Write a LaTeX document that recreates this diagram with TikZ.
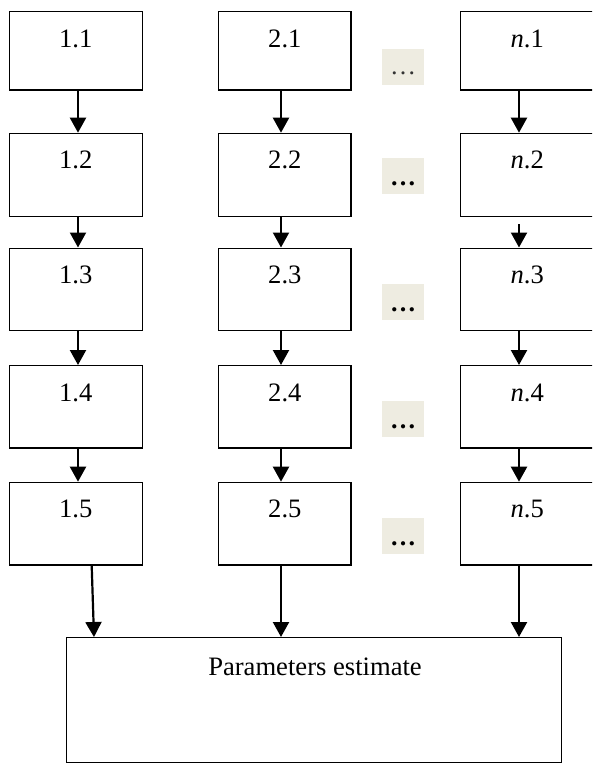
\documentclass[tikz,border=0pt]{standalone}
\usepackage{fontspec}
\setmainfont{Liberation Serif}
\usetikzlibrary{arrows.meta}
\definecolor{dotfill}{HTML}{EEECE1}
\tikzset{
  stage/.style={draw=black, line width=1.4pt, rectangle, inner sep=0pt},
  stagelabel/.style={anchor=base, inner sep=0pt, font=\fontsize{26.6}{30}\selectfont},
  flow/.style={line width=2.2pt, -{Triangle[width=16pt,length=15pt]}},
  gapbox/.style={fill=dotfill, draw=none, minimum width=42pt, minimum height=36pt, inner sep=0pt},
  gapdots/.style={anchor=base, inner sep=0pt, font=\fontsize{26}{30}\selectfont}
}
% box between corners given in pixel units (y grows downwards)
\newcommand{\stagebox}[5]{%
  \node[stage, minimum width={#4-#2}, minimum height={#5-#3}, anchor=north west]
    (#1) at (#2,#3) {};}
\begin{document}
\begin{tikzpicture}[x=1pt,y=-1pt]
\useasboundingbox (0,0) rectangle (592,763);
\begin{scope}
\clip (0,0) rectangle (592,763);

% row limits
\def\ra{11}\def\rb{89.3}
\def\rc{132.7}\def\rd{216}
\def\re{247.5}\def\rf{330}
\def\rg{365}\def\rh{447.3}
\def\ri{481.7}\def\rj{564.3}

% first column
\stagebox{a1}{8.5}{\ra}{141.5}{\rb}
\stagebox{a2}{8.5}{\rc}{141.5}{\rd}
\stagebox{a3}{8.5}{\re}{141.5}{\rf}
\stagebox{a4}{8.5}{\rg}{141.5}{\rh}
\stagebox{a5}{8.5}{\ri}{141.5}{\rj}
% second column
\stagebox{b1}{218}{\ra}{350.3}{\rb}
\stagebox{b2}{218}{\rc}{350.3}{\rd}
\stagebox{b3}{218}{\re}{350.3}{\rf}
\stagebox{b4}{218}{\rg}{350.3}{\rh}
\stagebox{b5}{218}{\ri}{350.3}{\rj}
% last column
\stagebox{c1}{460}{\ra}{593}{\rb}
\stagebox{c2}{460}{\rc}{593}{\rd}
\stagebox{c3}{460}{\re}{593}{\rf}
\stagebox{c4}{460}{\rg}{593}{\rh}
\stagebox{c5}{460}{\ri}{593}{\rj}

% estimation box
\stagebox{est}{66}{637}{560.7}{761.7}

% labels
\foreach \k in {1,...,5}{
  \node[stagelabel] (la\k) at ([yshift=-36pt]a\k.north) {1.\k};
  \node[stagelabel] (lb\k) at ([yshift=-36pt]b\k.north) {2.\k};
  \node[stagelabel] (lc\k) at ([yshift=-36pt]c\k.north) {\textit{n}.\k};
}
\node[stagelabel] (lest) at (315,675) {Parameters estimate};

% gaps between the second and the last column
\node[gapbox] (g1) at (403,66.5) {};
\node[gapbox] (g2) at (403,175.5) {};
\node[gapbox] (g3) at (403,302) {};
\node[gapbox] (g4) at (403,419) {};
\node[gapbox] (g5) at (403,536) {};
\node[gapdots, text=black!80] (d1) at (403,74) {…};
\node[gapdots] (d2) at (403,185) {\bfseries …};
\node[gapdots] (d3) at (403,311) {\bfseries …};
\node[gapdots] (d4) at (403,428) {\bfseries …};
\node[gapdots] (d5) at (403,545) {\bfseries …};

% flow inside the columns
\foreach \p/\q in {1/2,2/3,3/4,4/5}{
  \draw[flow] (a\p.south -| 78,0) -- (a\q.north -| 78,0);
  \draw[flow] (b\p.south -| 281,0) -- (b\q.north -| 281,0);
}
\draw[flow] (c1.south -| 519,0) -- (c2.north -| 519,0);
\coordinate (c2out) at ([yshift=-7pt]c2.south -| 519,0);
\draw[flow] (c2out) -- (c3.north -| 519,0);
\draw[flow] (c3.south -| 519,0) -- (c4.north -| 519,0);
\draw[flow] (c4.south -| 519,0) -- (c5.north -| 519,0);

% flow into the estimation box
\draw[flow] (a5.south -| 91.7,0) -- (est.north -| 94,0);
\draw[flow] (b5.south -| 281,0) -- (est.north -| 281,0);
\draw[flow] (c5.south -| 519,0) -- (est.north -| 519,0);
\end{scope}
\end{tikzpicture}
\end{document}
